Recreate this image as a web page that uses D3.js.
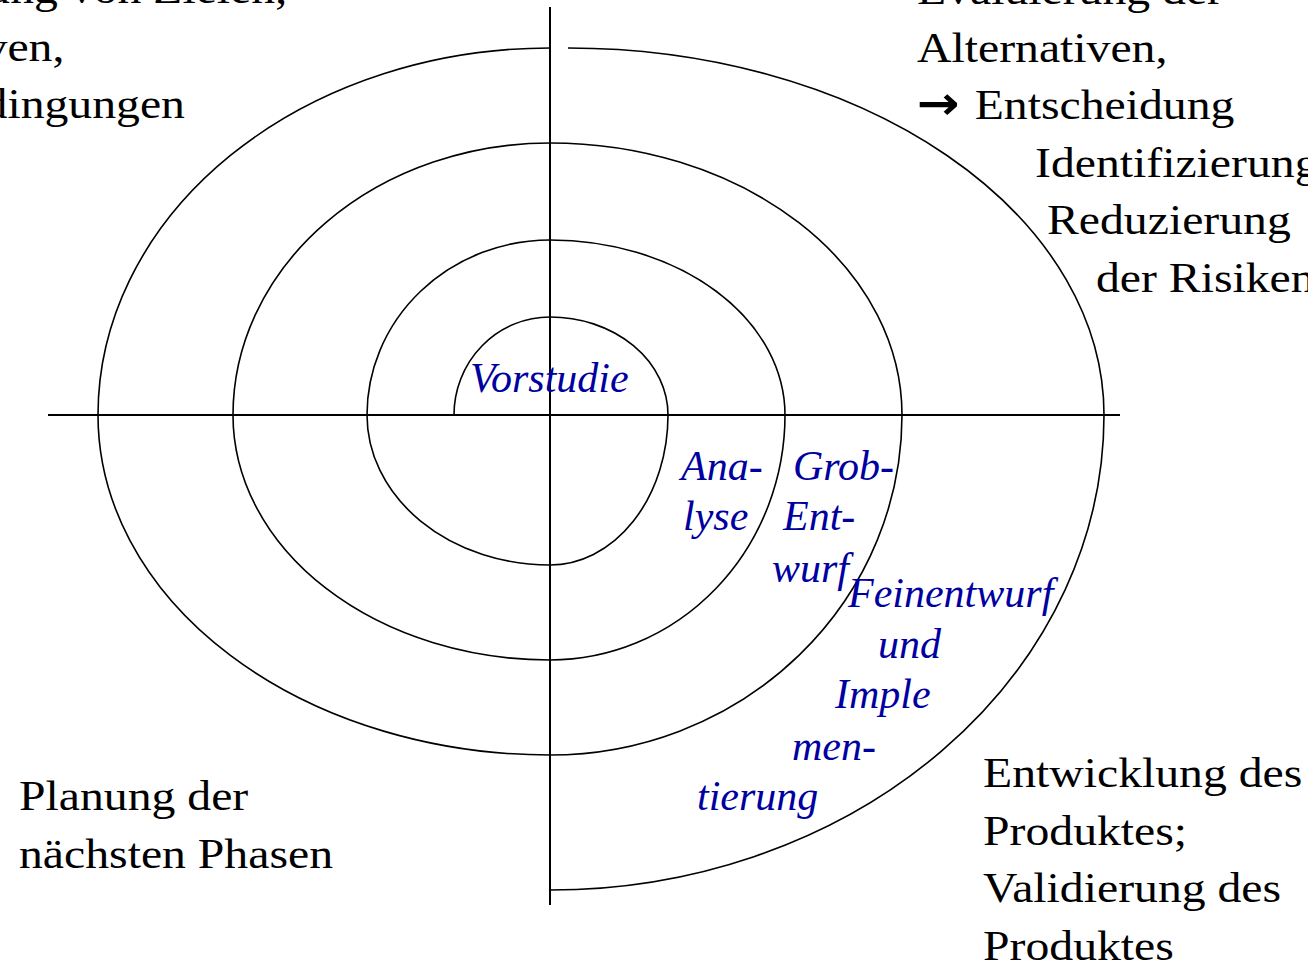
<!DOCTYPE html>
<html>
<head>
<meta charset="utf-8">
<script src="https://cdn.jsdelivr.net/npm/d3@7"></script>
<style>
  html, body { margin: 0; padding: 0; background: #fff; }
  svg { display: block; }
</style>
</head>
<body>
<div id="chart"></div>
<script>
// spiral crossings of the axes, measured from the centre (y up)
var crossLeft = [96, 183, 317, 452];
var crossUp = [98, 175, 272, 367];
var crossRight = [118, 235, 352, 554];
var crossDown = [150, 245, 340, 475];
var topGap = 18; // last turn starts a bit right of the axis

// axis extents
var axisX = [-502, 570];
var axisY = [-490, 408];

// quadrant texts
var textTopLeft = ["Bestimmung von Zielen,", "Alternativen,", "Nebenbedingungen"];
var textTopRight = ["Evaluierung der", "Alternativen,", "→ Entscheidung"];
var textRisk = ["Identifizierung und", "Reduzierung", "der Risiken"];
var textBottomLeft = ["Planung der", "nächsten Phasen"];
var textBottomRight = ["Entwicklung des", "Produktes;", "Validierung des", "Produktes"];

// phase labels along the spiral
var phases = [
  ["Vorstudie"],
  ["Ana-", "lyse"],
  ["Grob-", "Ent-", "wurf"],
  ["Feinentwurf", "und", "Imple", "men-", "tierung"]
];

var svgWidth = 1308;
var svgHeight = 966;

var x = d3.scaleLinear().domain([-550, 758]).range([0, svgWidth]);
var y = d3.scaleLinear().domain([415, -551]).range([0, svgHeight]);

var svg = d3.select("#chart")
  .append("svg")
  .attr("width", svgWidth)
  .attr("height", svgHeight);

// axes
svg.append("line")
  .attr("x1", x(axisX[0])).attr("x2", x(axisX[1]))
  .attr("y1", y(0)).attr("y2", y(0))
  .attr("stroke", "#000").attr("stroke-width", 2);

svg.append("line")
  .attr("x1", x(0)).attr("x2", x(0))
  .attr("y1", y(axisY[1])).attr("y2", y(axisY[0]))
  .attr("stroke", "#000").attr("stroke-width", 2);

// spiral: quarter ellipses between successive axis crossings
var pts = [];
crossLeft.forEach(function(d, i) {
  pts.push([-crossLeft[i], 0]);
  pts.push([0, crossUp[i]]);
  pts.push([crossRight[i], 0]);
  pts.push([0, -crossDown[i]]);
});

var p = "M" + x(pts[0][0]) + "," + y(pts[0][1]);
for (var i = 1; i < pts.length; i++) {
  var a = pts[i - 1], b = pts[i];
  var ox = 0;
  if (i === pts.length - 2) {
    // leave the gap at the top of the last turn
    ox = topGap;
    p += "M" + x(ox) + "," + y(a[1]);
  }
  var rx = Math.max(Math.abs(a[0]), Math.abs(b[0])) - ox;
  var ry = Math.max(Math.abs(a[1]), Math.abs(b[1]));
  var sx = x(rx) - x(0);
  var sy = y(0) - y(ry);
  p += "A" + sx + "," + sy + " 0 0 1 " + x(b[0]) + "," + y(b[1]);
}

svg.append("path")
  .attr("d", p)
  .attr("fill", "none")
  .attr("stroke", "#000")
  .attr("stroke-width", 1.6);

// text helpers
var stretch = 1.11;

function block(lines, left, top, step, xs) {
  lines.forEach(function(t, i) {
    var tx = xs ? xs[i] : left;
    var g = svg.append("text")
      .attr("transform", "translate(" + tx + "," + (top + i * step) + ") scale(" + stretch + ",1)")
      .attr("font-family", "'Liberation Serif', 'Times New Roman', serif")
      .attr("font-size", 43)
      .attr("fill", "#000");
    if (t.indexOf("→") === 0) {
      g.append("tspan")
        .attr("font-family", "'DejaVu Sans', sans-serif")
        .attr("font-weight", "bold")
        .attr("font-size", 46)
        .text("→");
      g.append("tspan")
        .attr("x", 52)
        .text(t.slice(2));
    } else {
      g.text(t);
    }
  });
}

block(textTopLeft, -186, 3, 57.5);
block(textTopRight, 917, 4, 57.5);
block(textRisk, 0, 177, 57.3, [1035, 1047, 1096]);
block(textBottomLeft, 19, 810, 58);
block(textBottomRight, 983, 787, 57.7);

// phase labels (blue italic)
var phasePos = [
  [[470, 392]],
  [[681, 480], [683, 530]],
  [[793, 480], [783, 530], [772, 582]],
  [[848, 607], [878, 658], [835, 708], [792, 760], [697, 810]]
];

phases.forEach(function(lines, k) {
  lines.forEach(function(t, i) {
    svg.append("text")
      .attr("x", phasePos[k][i][0])
      .attr("y", phasePos[k][i][1])
      .attr("font-family", "'Liberation Serif', 'Times New Roman', serif")
      .attr("font-style", "italic")
      .attr("font-size", 42)
      .attr("fill", "#0000a0")
      .text(t);
  });
});
</script>
</body>
</html>
